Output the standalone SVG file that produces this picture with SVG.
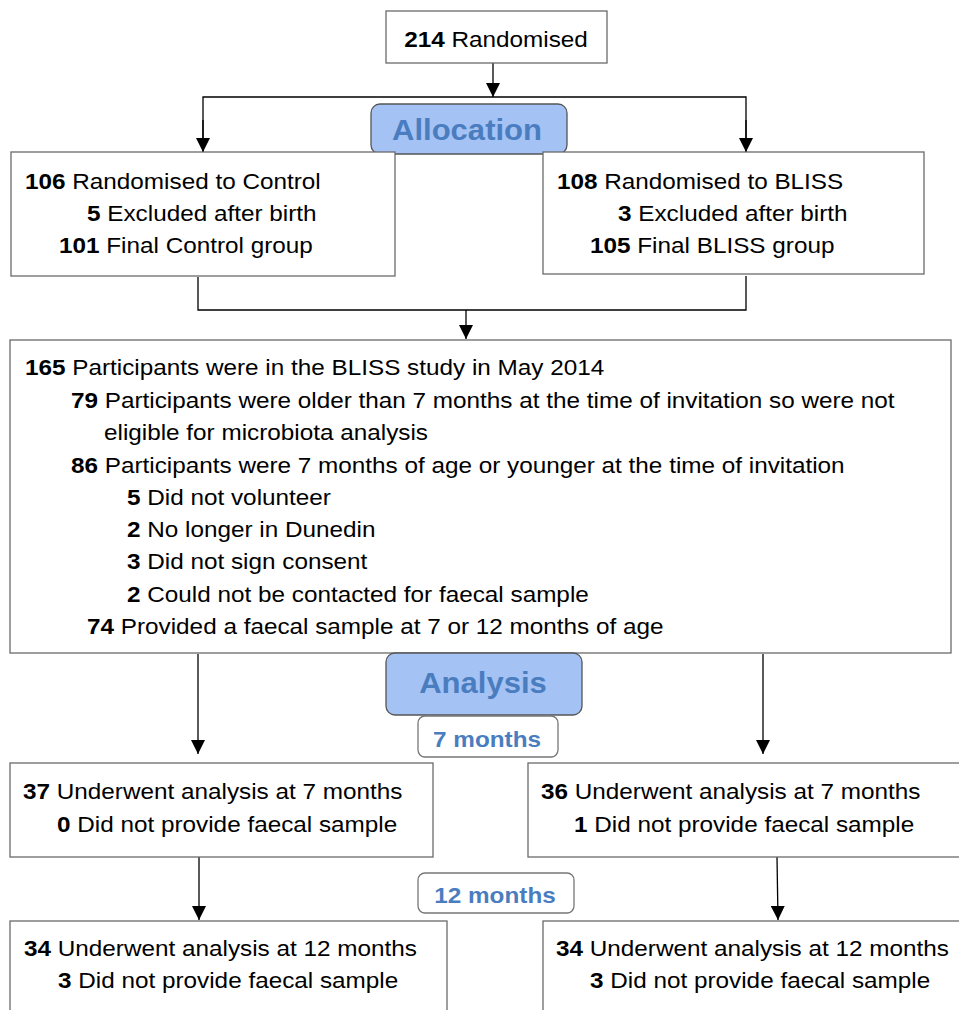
<svg xmlns="http://www.w3.org/2000/svg" width="959" height="1010" viewBox="0 0 959 1010">
<style>
.box{fill:#fff;stroke:#6a6a6a;stroke-width:1.3}
.hdr{fill:#a4c2f4;stroke:#555;stroke-width:1.3}
.lbl{fill:#fff;stroke:#777;stroke-width:1.3}
.t{font-family:"Liberation Sans",Arial,sans-serif;font-size:22.5px;fill:#000}
.b{font-weight:bold}
.h{font-family:"Liberation Sans",Arial,sans-serif;font-size:30px;font-weight:bold;fill:#4a7dbf;text-anchor:middle}
.m{font-family:"Liberation Sans",Arial,sans-serif;font-size:22.5px;font-weight:bold;fill:#4a7dbf;text-anchor:middle}
.c{fill:none;stroke:#000;stroke-width:1.3}
</style>
<defs>
<marker id="arr" viewBox="0 0 14 14" refX="14" refY="7" markerWidth="14" markerHeight="14" markerUnits="userSpaceOnUse" orient="auto">
<path d="M0,0 L14,7 L0,14 Z" fill="#000"/>
</marker>
</defs>
<rect width="959" height="1010" fill="#fff"/>
<g id="connectors">
<line class="c" x1="493" y1="63" x2="493" y2="97" marker-end="url(#arr)"/>
<polyline class="c" points="203,152 203,97 746,97 746,152"/>
<line class="c" x1="203" y1="120" x2="203" y2="152" marker-end="url(#arr)"/>
<line class="c" x1="746" y1="120" x2="746" y2="152" marker-end="url(#arr)"/>
<polyline class="c" points="198,277 198,310 746,310 746,276"/>
<line class="c" x1="466" y1="310" x2="466" y2="339" marker-end="url(#arr)"/>
<line class="c" x1="198" y1="654" x2="198" y2="754" marker-end="url(#arr)"/>
<line class="c" x1="763" y1="654" x2="763" y2="754" marker-end="url(#arr)"/>
<line class="c" x1="199" y1="857" x2="199" y2="920" marker-end="url(#arr)"/>
<line class="c" x1="777" y1="857" x2="778" y2="920" marker-end="url(#arr)"/>
</g>
<g id="randomised">
<rect class="box" x="386" y="11" width="221" height="52"/>
<text class="t" text-anchor="middle" transform="translate(496 47) scale(1.08 1)"><tspan class="b">214</tspan> Randomised</text>
</g>
<g id="allocation">
<rect class="hdr" x="371" y="104" width="196" height="50" rx="9"/>
<text class="h" transform="translate(467 140) scale(1.035 1)">Allocation</text>
</g>
<g id="control">
<rect class="box" x="11" y="152" width="384" height="124"/>
<text class="t" transform="translate(25 189) scale(1.08 1)"><tspan class="b">106</tspan> Randomised to Control</text>
<text class="t" transform="translate(87 221) scale(1.08 1)"><tspan class="b">5</tspan> Excluded after birth</text>
<text class="t" transform="translate(59 253) scale(1.08 1)"><tspan class="b">101</tspan> Final Control group</text>
</g>
<g id="bliss">
<rect class="box" x="543" y="152" width="381" height="122"/>
<text class="t" transform="translate(557 189) scale(1.08 1)"><tspan class="b">108</tspan> Randomised to BLISS</text>
<text class="t" transform="translate(618 221) scale(1.08 1)"><tspan class="b">3</tspan> Excluded after birth</text>
<text class="t" transform="translate(590 253) scale(1.08 1)"><tspan class="b">105</tspan> Final BLISS group</text>
</g>
<g id="study">
<rect class="box" x="10" y="340" width="941" height="313"/>
<text class="t" transform="translate(25 375) scale(1.08 1)"><tspan class="b">165</tspan> Participants were in the BLISS study in May 2014</text>
<text class="t" transform="translate(71 408) scale(1.08 1)"><tspan class="b">79</tspan> Participants were older than 7 months at the time of invitation so were not</text>
<text class="t" transform="translate(104 440) scale(1.08 1)">eligible for microbiota analysis</text>
<text class="t" transform="translate(71 473) scale(1.08 1)"><tspan class="b">86</tspan> Participants were 7 months of age or younger at the time of invitation</text>
<text class="t" transform="translate(127 505) scale(1.08 1)"><tspan class="b">5</tspan> Did not volunteer</text>
<text class="t" transform="translate(127 537) scale(1.08 1)"><tspan class="b">2</tspan> No longer in Dunedin</text>
<text class="t" transform="translate(127 569) scale(1.08 1)"><tspan class="b">3</tspan> Did not sign consent</text>
<text class="t" transform="translate(127 602) scale(1.08 1)"><tspan class="b">2</tspan> Could not be contacted for faecal sample</text>
<text class="t" transform="translate(87 634) scale(1.08 1)"><tspan class="b">74</tspan> Provided a faecal sample at 7 or 12 months of age</text>
</g>
<g id="analysis">
<rect class="hdr" x="386" y="653" width="196" height="62" rx="9"/>
<text class="h" transform="translate(483 693) scale(1.035 1)">Analysis</text>
</g>
<g id="label7">
<rect class="lbl" x="418" y="716" width="140" height="41" rx="7"/>
<text class="m" transform="translate(487 747) scale(1.08 1)">7 months</text>
</g>
<g id="control7">
<rect class="box" x="10" y="763" width="423" height="94"/>
<text class="t" transform="translate(23 799) scale(1.08 1)"><tspan class="b">37</tspan> Underwent analysis at 7 months</text>
<text class="t" transform="translate(57 832) scale(1.08 1)"><tspan class="b">0</tspan> Did not provide faecal sample</text>
</g>
<g id="bliss7">
<rect class="box" x="528" y="763" width="440" height="94"/>
<text class="t" transform="translate(541 799) scale(1.08 1)"><tspan class="b">36</tspan> Underwent analysis at 7 months</text>
<text class="t" transform="translate(574 832) scale(1.08 1)"><tspan class="b">1</tspan> Did not provide faecal sample</text>
</g>
<g id="label12">
<rect class="lbl" x="418" y="873" width="156" height="40" rx="7"/>
<text class="m" transform="translate(495 903) scale(1.08 1)">12 months</text>
</g>
<g id="control12">
<rect class="box" x="10" y="921" width="437" height="100"/>
<text class="t" transform="translate(24 956) scale(1.08 1)"><tspan class="b">34</tspan> Underwent analysis at 12 months</text>
<text class="t" transform="translate(58 988) scale(1.08 1)"><tspan class="b">3</tspan> Did not provide faecal sample</text>
</g>
<g id="bliss12">
<rect class="box" x="543" y="921" width="430" height="100"/>
<text class="t" transform="translate(556 956) scale(1.08 1)"><tspan class="b">34</tspan> Underwent analysis at 12 months</text>
<text class="t" transform="translate(590 988) scale(1.08 1)"><tspan class="b">3</tspan> Did not provide faecal sample</text>
</g>
</svg>
